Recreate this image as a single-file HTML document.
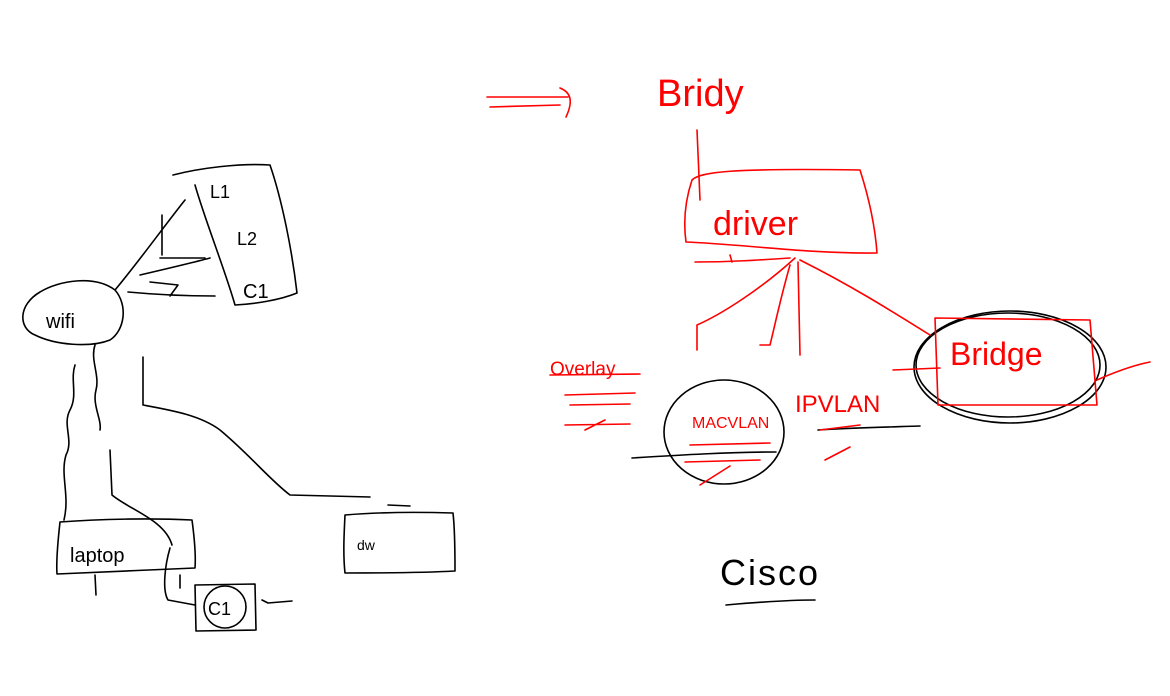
<!DOCTYPE html>
<html><head><meta charset="utf-8"><style>
html,body{margin:0;padding:0;background:#fff;width:1170px;height:696px;overflow:hidden}
svg{display:block}
text{font-family:"Liberation Sans",sans-serif}
</style></head><body>
<svg width="1170" height="696" viewBox="0 0 1170 696" xmlns="http://www.w3.org/2000/svg" fill="none" stroke-linecap="round" stroke-linejoin="round">
<g stroke="#000" stroke-width="1.6">
<path d="M40 292 C60 280 95 275 115 290 C128 305 125 330 110 340 C90 348 55 345 35 335 C18 328 18 305 40 292 Z"/>
<path d="M173 175 C200 168 240 163 270 165 C282 200 292 250 297 293 C280 300 255 304 235 305 C225 270 205 220 195 185"/>
<path d="M115 290 C140 260 165 225 185 200"/>
<path d="M162 255 L162 215 M160 258 L205 258"/>
<path d="M140 275 C170 268 195 262 210 258"/>
<path d="M128 292 C160 295 190 296 215 296 M150 282 L178 285 L170 296"/>
<path d="M75 365 C70 380 78 395 70 410 C62 425 74 440 66 455 C60 475 70 495 64 520"/>
<path d="M95 345 C90 360 100 375 96 390 C92 405 102 420 100 430"/>
<path d="M110 450 L112 495 C130 510 165 520 172 545"/>
<path d="M143 357 L143 405 C170 410 200 415 220 430 C250 455 270 480 290 495 L370 497"/>
<path d="M388 505 L410 506"/>
<path d="M60 522 C100 519 150 518 192 520 C194 535 196 555 195 568 C150 570 100 572 57 574 C56 560 58 540 60 522"/>
<path d="M95 575 L96 595 M180 575 L180 588"/>
<path d="M345 515 C380 512 420 512 453 513 C455 530 455 555 455 571 C420 573 380 573 345 573 C343 555 344 535 345 515"/>
<path d="M170 548 C165 565 162 590 168 600 L195 605"/>
<path d="M195 585 L255 584 L256 630 L196 631 Z"/>
<circle cx="225" cy="607" r="21"/>
<path d="M262 600 L268 603 L292 601"/>
<ellipse cx="1010" cy="367" rx="96" ry="56"/>
<ellipse cx="1008" cy="365" rx="92" ry="52"/>
<ellipse cx="724" cy="432" rx="60" ry="52"/>
<path d="M632 458 C680 455 730 452 776 452"/>
<path d="M818 430 C850 428 890 427 920 426"/>
<path d="M726 605 C760 602 790 600 815 600"/>
</g>
<g fill="#000" font-size="20">
<text x="46" y="328">wifi</text>
<text x="210" y="198" font-size="18">L1</text>
<text x="237" y="245" font-size="18">L2</text>
<text x="243" y="298" font-size="20">C1</text>
<text x="70" y="562" font-size="20">laptop</text>
<text x="357" y="550" font-size="14">dw</text>
<text x="208" y="615" font-size="18">C1</text>
<text x="720" y="585" font-size="36" letter-spacing="2">Cisco</text>
</g>
<g stroke="#f00" stroke-width="1.6">
<path d="M487 97 L568 97 M490 107 L560 105"/>
<path d="M560 88 C570 92 574 100 566 117"/>
<path d="M697 130 L700 200"/>
<path d="M692 180 C700 172 730 168 860 170 C868 195 875 225 877 253 C810 254 740 244 686 242 C683 220 686 198 692 180 Z"/>
<path d="M695 262 C730 262 760 260 790 258"/>
<path d="M730 255 L732 262"/>
<path d="M795 258 C760 290 720 315 697 325 L697 350"/>
<path d="M790 265 C780 300 775 325 770 345 L760 345"/>
<path d="M798 262 L800 355"/>
<path d="M800 260 C850 285 890 310 930 335"/>
<path d="M935 318 L1090 320 L1097 405 L938 405 Z"/>
<path d="M893 370 L940 368 M1097 380 C1115 372 1135 365 1150 362"/>
<path d="M565 395 L635 393 M570 405 L630 404 M565 425 L630 424 M585 430 L605 420"/>
<path d="M690 445 L770 443 M685 462 L760 460 M700 485 L730 466"/>
<path d="M820 430 L860 425 M825 460 L850 447"/>
<path d="M550 375 L640 374"/>
</g>
<g fill="#f00">
<text x="657" y="106" font-size="38">Bridy</text>
<text x="713" y="235" font-size="34">driver</text>
<text x="950" y="365" font-size="32">Bridge</text>
<text x="550" y="375" font-size="19">Overlay</text>
<text x="692" y="428" font-size="16">MACVLAN</text>
<text x="795" y="412" font-size="24">IPVLAN</text>
</g>
</svg>
</body></html>
